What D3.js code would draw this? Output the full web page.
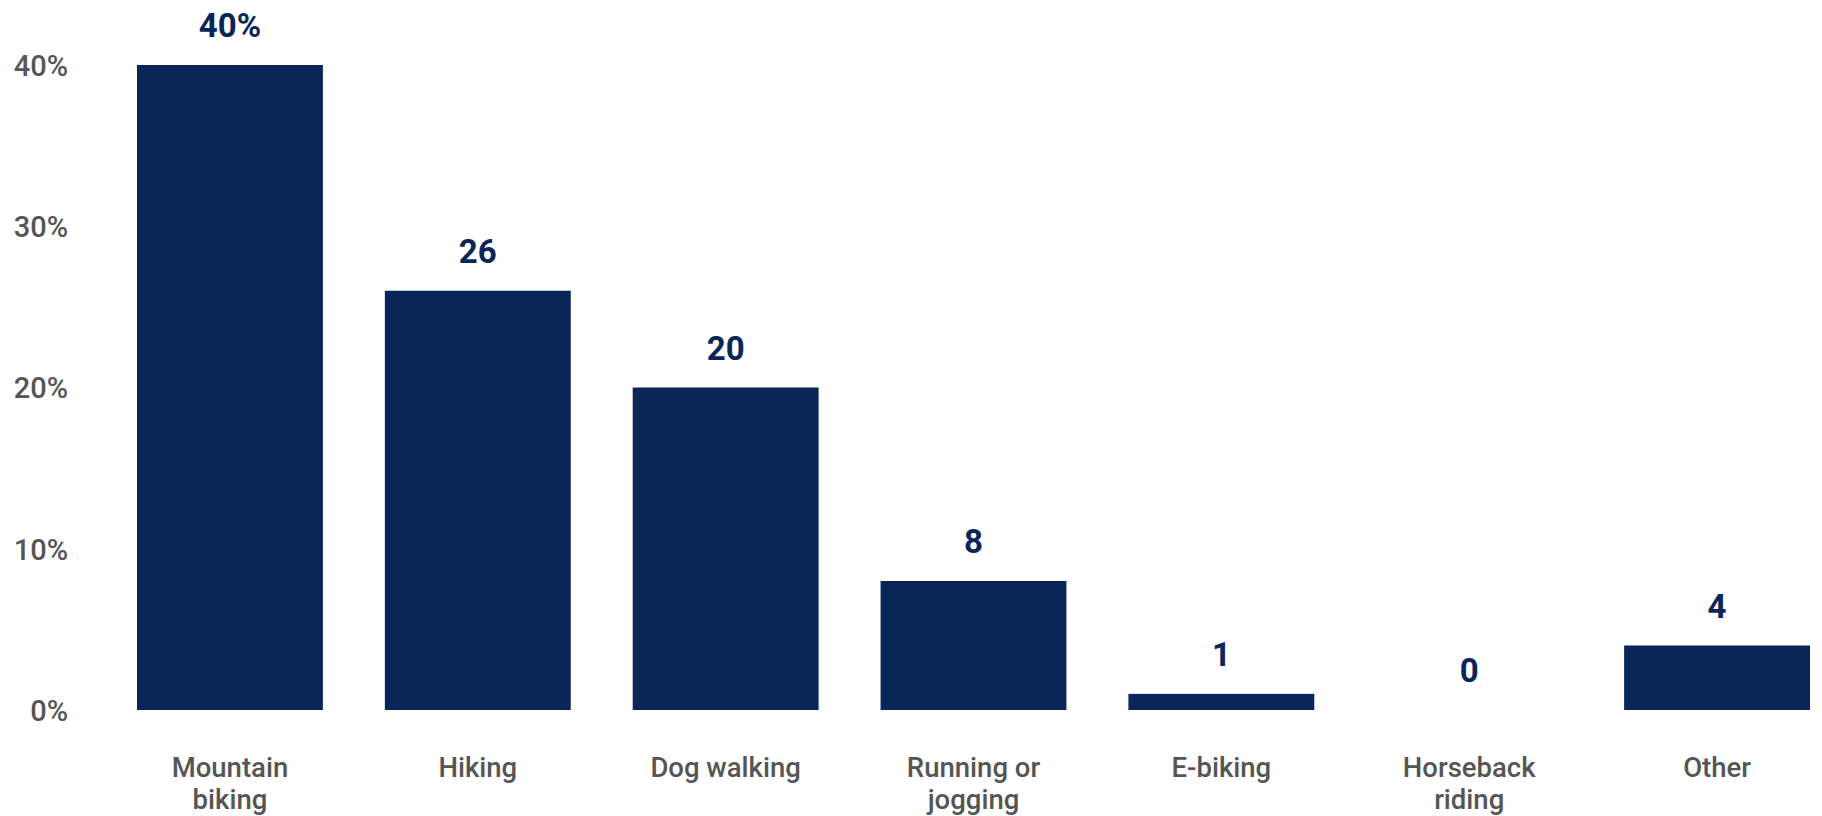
<!DOCTYPE html>
<html>
<head>
<meta charset="utf-8">
<script src="https://cdn.jsdelivr.net/npm/d3@7"></script>
<style>
  html, body { margin: 0; padding: 0; background: #ffffff; }
  svg { display: block; }
  text { font-family: Roboto, "Noto Sans", sans-serif; }
</style>
</head>
<body>
<svg id="chart" width="1822" height="816"></svg>
<script>
// Share of trail users by primary activity (%)
const categories = ["Mountain biking", "Hiking", "Dog walking", "Running or jogging", "E-biking", "Horseback riding", "Other"];
const categoryLines = [["Mountain", "biking"], ["Hiking"], ["Dog walking"], ["Running or", "jogging"], ["E-biking"], ["Horseback", "riding"], ["Other"]];
const values = [40, 26, 20, 8, 1, 0, 4];
const valueLabels = ["40%", "26", "20", "8", "1", "0", "4"];
const tickValues = [0, 10, 20, 30, 40];
const tickLabels = ["0%", "10%", "20%", "30%", "40%"];

const barColor = "#0a2659";
const axisText = "#555555";

const svg = d3.select("#chart");

const x = d3.scaleBand()
  .domain(categories)
  .range([137, 1810])
  .paddingInner(0.25)
  .paddingOuter(0);

const y = d3.scaleLinear()
  .domain([0, 40])
  .range([710, 65]);

// y axis labels (no line, no ticks)
const yAxis = d3.axisLeft(y)
  .tickValues(tickValues)
  .tickFormat((d, i) => tickLabels[i])
  .tickSize(0)
  .tickPadding(0);

const yg = svg.append("g")
  .attr("transform", "translate(68,0)")
  .call(yAxis);
yg.select(".domain").remove();
yg.selectAll("text")
  .attr("fill", axisText)
  .attr("font-size", 29)
  .attr("font-weight", 500)
  .attr("dy", "0.36em")
  .style("font-family", "Roboto, sans-serif");

// bars
svg.append("g")
  .selectAll("rect")
  .data(values)
  .join("rect")
  .attr("x", (d, i) => x(categories[i]))
  .attr("y", d => y(d))
  .attr("width", x.bandwidth())
  .attr("height", d => y(0) - y(d))
  .attr("fill", barColor);

// value labels above bars
svg.append("g")
  .selectAll("text")
  .data(values)
  .join("text")
  .attr("x", (d, i) => x(categories[i]) + x.bandwidth() / 2)
  .attr("y", d => y(d) - 28)
  .attr("text-anchor", "middle")
  .attr("fill", barColor)
  .attr("font-size", 33)
  .attr("font-weight", 700)
  .text((d, i) => valueLabels[i]);

// category labels below the baseline
const xg = svg.append("g");
categoryLines.forEach((lines, i) => {
  const t = xg.append("text")
    .attr("x", x(categories[i]) + x.bandwidth() / 2)
    .attr("y", 777)
    .attr("text-anchor", "middle")
    .attr("fill", axisText)
    .attr("font-size", 27.5)
    .attr("font-weight", 500);
  lines.forEach((line, j) => {
    t.append("tspan")
      .attr("x", x(categories[i]) + x.bandwidth() / 2)
      .attr("dy", j === 0 ? 0 : 32)
      .text(line);
  });
});
</script>
</body>
</html>
